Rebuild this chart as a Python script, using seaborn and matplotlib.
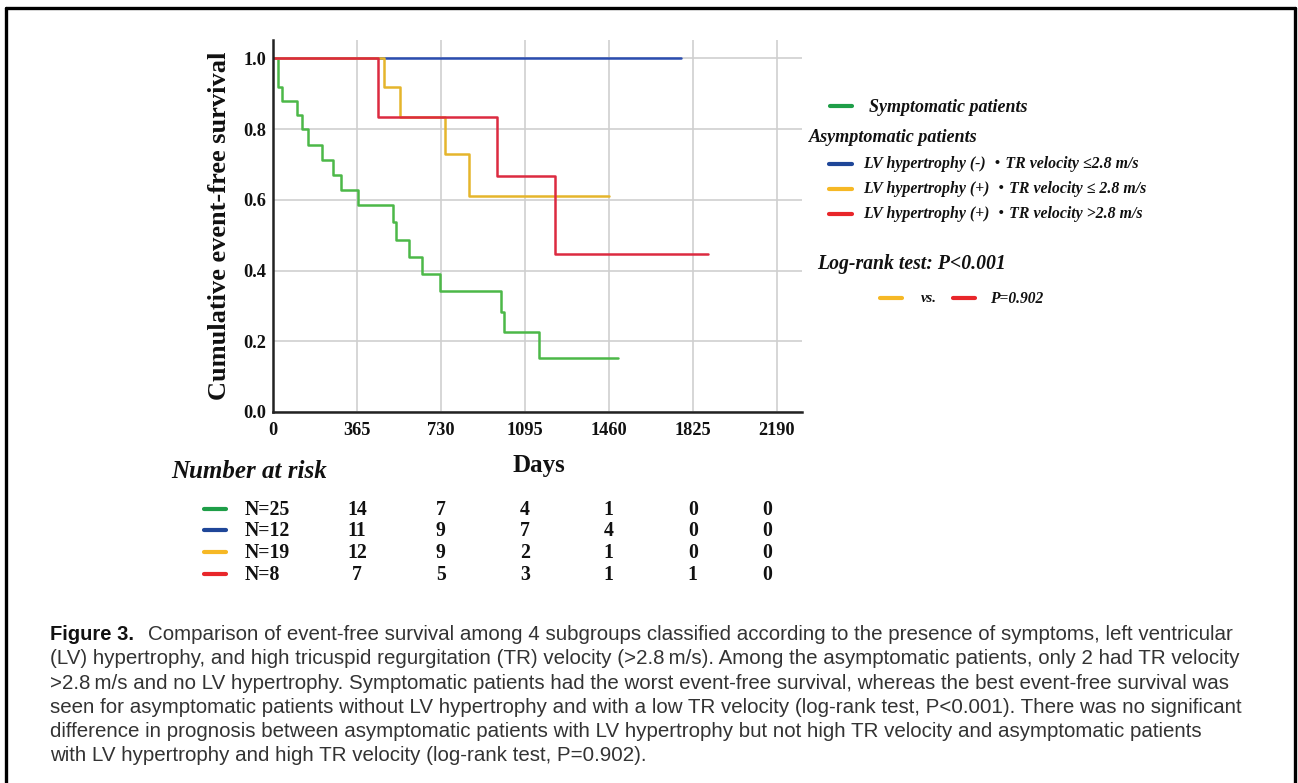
import matplotlib
matplotlib.use("Agg")
import matplotlib.pyplot as plt
import matplotlib.transforms as mtransforms
from matplotlib.lines import Line2D
import pandas as pd
import seaborn as sns

W, H = 1298, 783

# Kaplan-Meier step data (days, event-free survival)
SYM_DAYS = [0, 22, 41, 103, 125, 154, 211, 262, 297, 371, 522, 535, 590, 648, 724, 993, 1003, 1156, 1499]
SYM_SURV = [1.0, 0.92, 0.88, 0.84, 0.80, 0.756, 0.714, 0.671, 0.628, 0.584, 0.536, 0.487, 0.438, 0.391, 0.341, 0.284, 0.227, 0.152, 0.152]
LVN_DAYS = [0, 1775]
LVN_SURV = [1.0, 1.0]
LVP_LOW_DAYS = [0, 484, 554, 746, 852, 1462]
LVP_LOW_SURV = [1.0, 0.919, 0.835, 0.730, 0.610, 0.610]
LVP_HIGH_DAYS = [0, 458, 975, 1227, 1893]
LVP_HIGH_SURV = [1.0, 0.835, 0.668, 0.446, 0.446]

GROUPS = ["sym", "lvn", "lvp_low", "lvp_high"]
LINE_COLORS = {"sym": "#4cb848", "lvn": "#2b4db0", "lvp_low": "#e5b52c", "lvp_high": "#dc2a40"}
SWATCH_COLORS = {"sym": "#1e9e48", "lvn": "#1f4698", "lvp_low": "#f6b825", "lvp_high": "#e8262a"}

XTICKS = [0, 365, 730, 1095, 1460, 1825, 2190]
YTICKS = [0.0, 0.2, 0.4, 0.6, 0.8, 1.0]

RISK_LABELS = ["N=25", "N=12", "N=19", "N=8"]
RISK_SYM = [14, 7, 4, 1, 0, 0]
RISK_LVN = [11, 9, 7, 4, 0, 0]
RISK_LVP_LOW = [12, 9, 2, 1, 0, 0]
RISK_LVP_HIGH = [7, 5, 3, 1, 1, 0]
RISK_DAYS = [365, 730, 1095, 1460, 1825, 2150]

CAPTION = [
    "(LV) hypertrophy, and high tricuspid regurgitation (TR) velocity (>2.8\u2009m/s). Among the asymptomatic patients, only 2 had TR velocity",
    ">2.8\u2009m/s and no LV hypertrophy. Symptomatic patients had the worst event-free survival, whereas the best event-free survival was",
    "seen for asymptomatic patients without LV hypertrophy and with a low TR velocity (log-rank test, P<0.001). There was no significant",
    "difference in prognosis between asymptomatic patients with LV hypertrophy but not high TR velocity and asymptomatic patients",
    "with LV hypertrophy and high TR velocity (log-rank test, P=0.902).",
]
CAPTION_FIRST = "Comparison of event-free survival among 4 subgroups classified according to the presence of symptoms, left ventricular"

SERIF = ["Liberation Serif", "Noto Sans CJK JP"]
SANS = ["Liberation Sans"]


def fx(x):
    return x / W


def fy(y):
    return 1 - y / H


def main():
    sns.set_theme(style="whitegrid")
    plt.rcParams["font.family"] = SERIF

    rows = []
    for g, days, surv in [
        ("sym", SYM_DAYS, SYM_SURV),
        ("lvn", LVN_DAYS, LVN_SURV),
        ("lvp_low", LVP_LOW_DAYS, LVP_LOW_SURV),
        ("lvp_high", LVP_HIGH_DAYS, LVP_HIGH_SURV),
    ]:
        for d, s in zip(days, surv):
            rows.append({"group": g, "day": d, "surv": s})
    df = pd.DataFrame(rows)

    fig = plt.figure(figsize=(W / 100, H / 100), dpi=100)
    ax = fig.add_axes([fx(273), fy(412), (802 - 273) / W, (412 - 40) / H])

    for g in GROUPS:
        sns.lineplot(
            data=df[df["group"] == g], x="day", y="surv",
            color=LINE_COLORS[g], estimator=None, sort=False,
            drawstyle="steps-post", linewidth=1.8, ax=ax, legend=False,
        )

    ax.set_xlim(0, 2300)
    ax.set_ylim(0, 1.052)
    ax.set_xticks(XTICKS)
    ax.set_yticks(YTICKS)
    ax.set_xticklabels([str(t) for t in XTICKS], fontweight="bold", fontsize=13.2)
    ax.set_yticklabels([f"{t:.1f}" for t in YTICKS], fontweight="bold", fontsize=13.2)
    ax.tick_params(axis="both", length=0, colors="#111111")
    ax.tick_params(axis="x", pad=7)
    ax.tick_params(axis="y", pad=5)
    ax.grid(True, color="#cfcfcf", linewidth=1.2)
    ax.set_facecolor("white")
    for side in ["top", "right"]:
        ax.spines[side].set_visible(False)
    for side in ["left", "bottom"]:
        ax.spines[side].set_color("#222222")
        ax.spines[side].set_linewidth(1.8)

    ax.set_ylabel("Cumulative event-free survival", fontsize=19, fontweight="bold", color="#111111")
    ax.yaxis.set_label_coords(-0.08, 0.5)
    ax.set_xlabel("Days", fontsize=18, fontweight="bold", color="#111111")
    ax.xaxis.set_label_coords(0.503, -0.1425)
    ax.xaxis.label.set_verticalalignment("center")

    def swatch(x0, x1, y, color):
        fig.add_artist(Line2D([fx(x0), fx(x1)], [fy(y), fy(y)], color=color, linewidth=3,
                              transform=fig.transFigure))

    def label(x, y, s, size, style="italic", ha="left"):
        fig.text(fx(x), fy(y), s, fontsize=size, fontweight="bold", fontstyle=style,
                 family=SERIF, ha=ha, va="center", color="#111111")

    # legend block
    swatch(830, 852, 106, SWATCH_COLORS["sym"])
    label(869, 107, "Symptomatic patients", 13)
    label(809, 138, "Asymptomatic patients", 13.1)
    legend_rows = [
        ("lvn", 164, "LV hypertrophy (-) \u30fbTR velocity \u22642.8 m/s"),
        ("lvp_low", 189, "LV hypertrophy (+) \u30fbTR velocity \u2264 2.8 m/s"),
        ("lvp_high", 214, "LV hypertrophy (+) \u30fbTR velocity >2.8 m/s"),
    ]
    for g, y, s in legend_rows:
        swatch(829, 852, y, SWATCH_COLORS[g])
        label(863, y, s, 11.4)
    label(817, 264, "Log-rank test: P<0.001", 14.2)
    swatch(880, 902, 298, SWATCH_COLORS["lvp_low"])
    label(921, 299, "vs.", 10.5)
    swatch(953, 975, 298, SWATCH_COLORS["lvp_high"])
    label(990, 299, "P=0.902", 11.2)

    # number at risk table
    label(171, 472, "Number at risk", 18)
    blend = mtransforms.blended_transform_factory(ax.transData, fig.transFigure)
    risk = [RISK_SYM, RISK_LVN, RISK_LVP_LOW, RISK_LVP_HIGH]
    row_y = [510, 531, 553, 575]
    for g, lab, vals, y in zip(GROUPS, RISK_LABELS, risk, row_y):
        swatch(204, 226, y - 1, SWATCH_COLORS[g])
        label(245, y, lab, 14.2, style="normal")
        for d, v in zip(RISK_DAYS, vals):
            fig.text(d, fy(y), str(v), transform=blend, fontsize=14.2, fontweight="bold",
                     family=SERIF, ha="center", va="center", color="#111111")

    # caption
    fig.text(fx(50), fy(634), "Figure 3.", fontsize=14.5, fontweight="bold", family=SANS,
             ha="left", va="center", color="#111111")
    fig.text(fx(148), fy(634), CAPTION_FIRST, fontsize=14.8, family=SANS,
             ha="left", va="center", color="#333333")
    for i, line in enumerate(CAPTION):
        fig.text(fx(50), fy(659 + i * 24.2), line, fontsize=14.8, family=SANS,
                 ha="left", va="center", color="#333333")

    # frame
    frame = dict(color="black", linewidth=2.4, transform=fig.transFigure)
    fig.add_artist(Line2D([fx(6), fx(1295)], [fy(8), fy(8)], **frame))
    fig.add_artist(Line2D([fx(6), fx(6)], [fy(8), 0], **frame))
    fig.add_artist(Line2D([fx(1295), fx(1295)], [fy(8), 0], **frame))

    fig.savefig("out.png", dpi=100, facecolor="white")


if __name__ == "__main__":
    main()
